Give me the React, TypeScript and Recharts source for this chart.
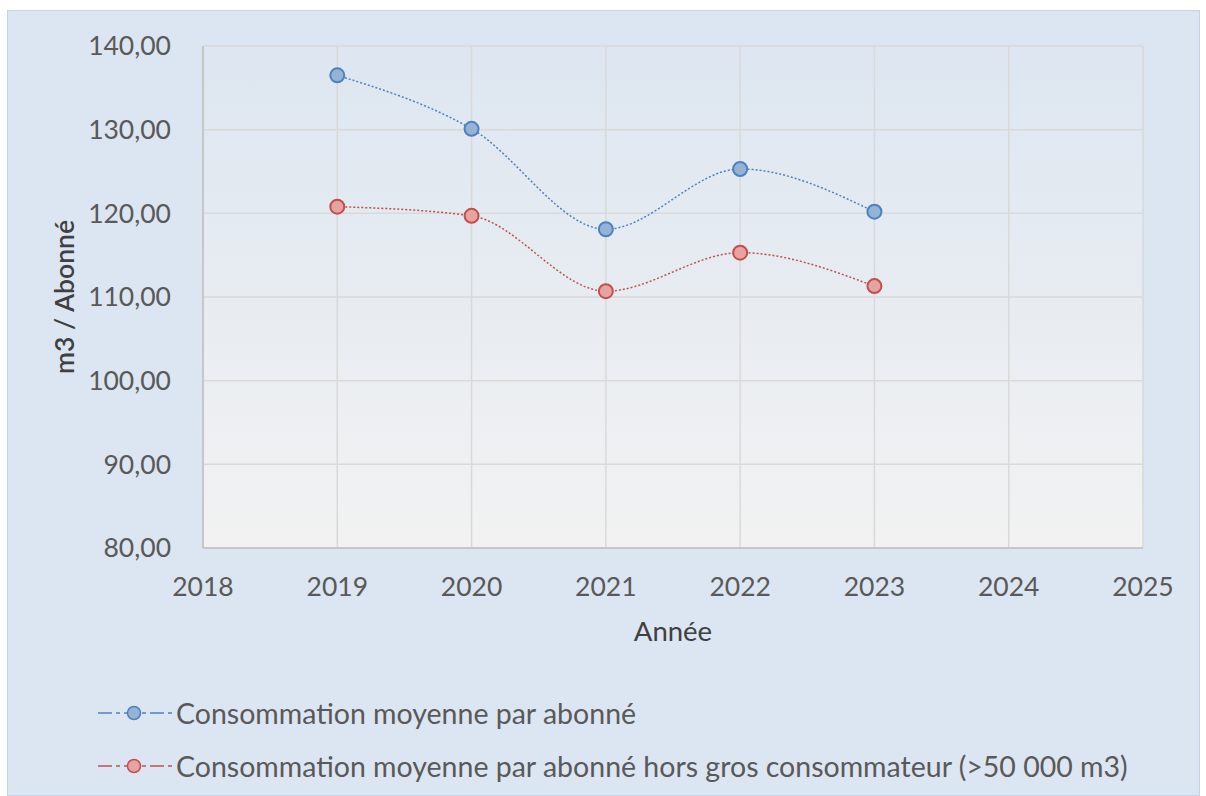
import { LineChart, Line, XAxis, YAxis, CartesianGrid } from "recharts";

const years = [2019, 2020, 2021, 2022, 2023];
const moyenne = [136.5, 130.1, 118.1, 125.3, 120.2];
const horsGros = [120.8, 119.7, 110.7, 115.3, 111.3];
const xTicks = [2018, 2019, 2020, 2021, 2022, 2023, 2024, 2025];
const yTicks = [80, 90, 100, 110, 120, 130, 140];

const seriesNames = [
  "Consommation moyenne par abonné",
  "Consommation moyenne par abonné hors gros consommateur (>50 000 m3)",
];

const data = years.map((year, i) => ({ year, moyenne: moyenne[i], horsGros: horsGros[i] }));

const BLUE = "#4f81bd";
const BLUE_FILL = "#95b3d7";
const RED = "#c0504d";
const RED_FILL = "#e6a3a1";
const FONT = "Lato, 'Open Sans', sans-serif";

const fmt = (v: number) => v.toFixed(2).replace(".", ",");

function LegendRow({ color, fill, label }: { color: string; fill: string; label: string }) {
  return (
    <div style={{ display: "flex", alignItems: "center", height: 53 }}>
      <svg width={80} height={20}>
        <line x1={2} y1={10} x2={78} y2={10} stroke={color} strokeWidth={1.5} strokeDasharray="14 4 4 4" />
        <circle cx={38} cy={10} r={6.5} fill={fill} stroke={color} strokeWidth={1.5} />
      </svg>
      <span style={{ fontSize: 28.5, color: "#595959", whiteSpace: "nowrap" }}>{label}</span>
    </div>
  );
}

export default function App() {
  return (
    <div
      style={{
        position: "absolute",
        left: 7,
        top: 10,
        width: 1191,
        height: 784,
        background: "#dce6f2",
        border: "1px solid #c3d4e9",
        fontFamily: FONT,
      }}
    >
      <LineChart
        width={1191}
        height={680}
        data={data}
        margin={{ top: 35, right: 56, bottom: 43, left: 0 }}
        style={{ fontFamily: FONT }}
      >
        <defs>
          <linearGradient id="plotBg" x1="0" y1="0" x2="0" y2="1">
            <stop offset="0%" stopColor="#dde6f1" />
            <stop offset="100%" stopColor="#f2f2f2" />
          </linearGradient>
        </defs>
        <CartesianGrid stroke="#d9d9d9" strokeWidth={1.5} fill="url(#plotBg)" />
        <XAxis
          dataKey="year"
          type="number"
          domain={[2018, 2025]}
          ticks={xTicks}
          height={100}
          axisLine={{ stroke: "#bfbfbf", strokeWidth: 1.5 }}
          tickLine={false}
          tickMargin={23}
          tick={{ fontSize: 26.5, fill: "#595959" }}
          label={{ value: "Année", position: "insideTop", dy: 68, fontSize: 27.5, fill: "#404040" }}
        />
        <YAxis
          type="number"
          domain={[80, 140]}
          ticks={yTicks}
          width={195}
          axisLine={{ stroke: "#bfbfbf", strokeWidth: 1.5 }}
          tickLine={false}
          tickMargin={26}
          tickFormatter={fmt}
          tick={{ fontSize: 26.5, fill: "#595959" }}
          label={{
            value: "m3 / Abonné",
            angle: -90,
            position: "insideLeft",
            dx: 52,
            dy: 0,
            fontSize: 26.5,
            fontWeight: 600,
            fill: "#404040",
            style: { textAnchor: "middle" },
          }}
        />
        <Line
          type="monotone"
          dataKey="moyenne"
          name={seriesNames[0]}
          stroke={BLUE}
          strokeWidth={1.5}
          strokeDasharray="2 2"
          dot={{ r: 7, fill: BLUE_FILL, stroke: BLUE, strokeWidth: 2, strokeDasharray: "" }}
          isAnimationActive={false}
        />
        <Line
          type="monotone"
          dataKey="horsGros"
          name={seriesNames[1]}
          stroke={RED}
          strokeWidth={1.5}
          strokeDasharray="2 2"
          dot={{ r: 7, fill: RED_FILL, stroke: RED, strokeWidth: 2, strokeDasharray: "" }}
          isAnimationActive={false}
        />
      </LineChart>
      <div style={{ position: "absolute", left: 88, top: 675 }}>
        <LegendRow color={BLUE} fill={BLUE_FILL} label={seriesNames[0]} />
        <LegendRow color={RED} fill={RED_FILL} label={seriesNames[1]} />
      </div>
    </div>
  );
}
